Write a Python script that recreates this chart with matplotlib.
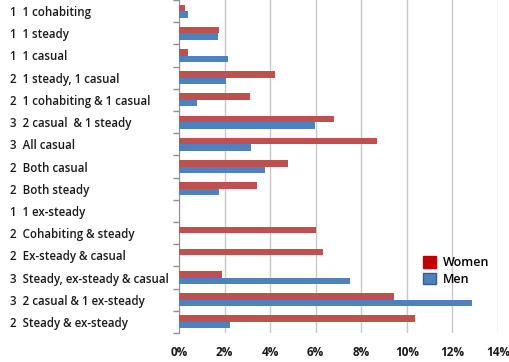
import numpy as np
import matplotlib
matplotlib.use("Agg")
import matplotlib.pyplot as plt
from matplotlib.patches import Patch

plt.rcParams['font.family'] = ['Open Sans', 'DejaVu Sans']

categories = [
    "1  1 cohabiting",
    "1  1 steady",
    "1  1 casual",
    "2  1 steady, 1 casual",
    "2  1 cohabiting & 1 casual",
    "3  2 casual  & 1 steady",
    "3  All casual",
    "2  Both casual",
    "2  Both steady",
    "1  1 ex-steady",
    "2  Cohabiting & steady",
    "2  Ex-steady & casual",
    "3  Steady, ex-steady & casual",
    "3  2 casual & 1 ex-steady",
    "2  Steady & ex-steady",
]
women = [0.25, 1.74, 0.41, 4.22, 3.10, 6.80, 8.70, 4.78, 3.42, 0.0, 6.02, 6.33, 1.87, 9.43, 10.35]
men = [0.41, 1.70, 2.14, 2.06, 0.78, 5.96, 3.14, 3.79, 1.74, 0.0, 0.0, 0.0, 7.50, 12.84, 2.25]

red = "#C0504D"
blue = "#4F81BD"

fig = plt.figure(figsize=(5.09, 3.62), dpi=100)
ax = fig.add_axes([179 / 509, 29 / 362, 319 / 509, 333 / 362])

y = np.arange(len(categories))
h = 0.29
ax.barh(y - h / 2, women, height=h, color=red, zorder=3)
ax.barh(y + h / 2, men, height=h, color=blue, zorder=3)

ax.set_ylim(len(categories) - 0.5, -0.5)
ax.set_xlim(0, 14)
ax.set_xticks(np.arange(0, 15, 2))
ax.set_xticklabels([f"{v}%" for v in range(0, 15, 2)])
ax.grid(axis='x', color='#C8C8C8', linewidth=1, zorder=0)

# category labels, left aligned near the figure edge
ax.set_yticks(y)
ax.set_yticklabels(categories)
ax.tick_params(axis='y', length=0, pad=169 * 0.72)
for t in ax.get_yticklabels():
    t.set_horizontalalignment('left')
    t.set_fontsize(8.3)
    t.set_fontweight('semibold')
    t.set_color('#1a1a1a')

# separator ticks between categories
ax.set_yticks(np.arange(-0.5, len(categories)), minor=True)
ax.tick_params(axis='y', which='minor', length=4, color='#909090', width=1)

ax.tick_params(axis='x', length=0, pad=9, labelsize=8.5, labelcolor='#1a1a1a')
for t in ax.get_xticklabels():
    t.set_fontweight('bold')

for s in ['top', 'right', 'bottom']:
    ax.spines[s].set_visible(False)
ax.spines['left'].set_color('#909090')

handles = [Patch(facecolor='#C00000', edgecolor='#C00000', label='Women'),
           Patch(facecolor=blue, edgecolor='#385D8A', label='Men')]
leg = fig.legend(handles=handles, loc='upper left', bbox_to_anchor=(412 / 509, 1 - 245 / 362),
                 frameon=False, fontsize=9, handlelength=1.0, handleheight=1.0,
                 handletextpad=0.6, labelspacing=0.3)
for t in leg.get_texts():
    t.set_fontweight('semibold')

fig.savefig("out.png", dpi=100)
